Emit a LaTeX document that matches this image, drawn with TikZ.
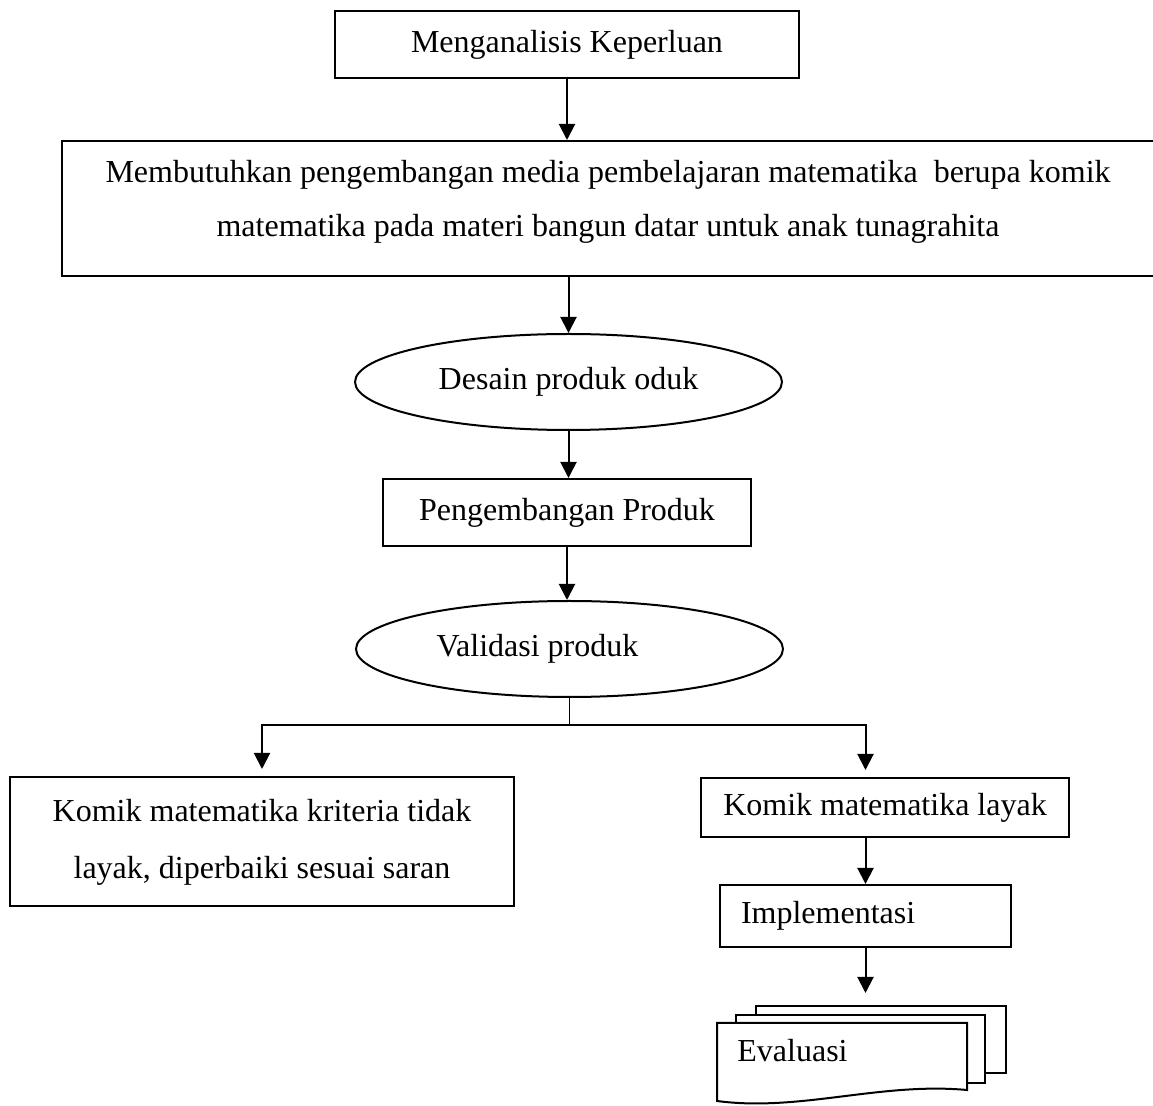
\documentclass[tikz,border=0pt]{standalone}
\usepackage{fontspec}
\setmainfont{Liberation Serif}
\usetikzlibrary{arrows.meta,positioning,shapes.geometric}
\tikzstyle{ndbox} = [draw, line width=1pt, shape=rectangle, inner sep=0pt, text=black]
\tikzstyle{ndell} = [draw, line width=1pt, shape=ellipse, inner sep=0pt, text=black]
\tikzstyle{ndpage} = [draw, line width=1pt, fill=white]
\tikzstyle{arflow} = [style={->,>={Triangle[length=8pt,width=8pt]},line width=1pt}]
\tikzstyle{lnflow} = [style={line width=0.6pt}]

\begin{document}
\begin{tikzpicture}[x=0.5pt, y=-0.5pt, font=\fontsize{16pt}{27pt}\selectfont]
	\useasboundingbox[fill=white] (0,0) rectangle (1153,1106);
	\node[ndbox, minimum width=232pt, minimum height=33.5pt] (n1) at (567,44.5) {Menganalisis Keperluan};
	\node[ndbox, minimum width=546pt, minimum height=67.5pt, align=center] (n2) at (608,208.5) {Membutuhkan pengembangan media pembelajaran matematika\ \ berupa komik\\ matematika pada materi bangun datar untuk anak tunagrahita\\[-25pt]\strut};
	\node[ndell, minimum width=213.5pt, minimum height=48pt] (n3) at (568.5,382) {Desain produk oduk};
	\node[ndbox, minimum width=184pt, minimum height=33.5pt] (n4) at (567,512.5) {Pengembangan Produk};
	\node[ndell, minimum width=213.5pt, minimum height=48pt] (n5) at (569.5,649) {Validasi produk\hspace*{32pt}};
	\node[ndbox, minimum width=252pt, minimum height=64.5pt, align=center, font=\fontsize{16pt}{28.5pt}\selectfont] (n6) at (262,841.5) {Komik matematika kriteria tidak\\ layak, diperbaiki sesuai saran\\[-34.5pt]\strut};
	\node[ndbox, minimum width=184pt, minimum height=29.5pt] (n7) at (885,807.5) {Komik matematika layak};
	\node[ndbox, minimum width=145.5pt, minimum height=31pt, text width=124.5pt, align=left, inner xsep=10.5pt] (n8) at (865.5,916) {Implementasi};
	\coordinate (evtop) at (865.5,993);
	% tumpukan dokumen evaluasi
	\draw[ndpage] (756,1006) rectangle (1006,1073);
	\draw[ndpage] (736,1015) rectangle (985,1083);
	\draw[ndpage] (717,1101) -- (717,1023) -- (967,1023) -- (967,1090) .. controls (880,1082) and (800,1112) .. cycle;
	\node[anchor=base west, inner sep=0pt] (n9) at (737,1062) {Evaluasi};
	\draw[arflow] (n1.south) -- (n1.south |- n2.north);
	\draw[arflow] (n3 |- n2.south) -- (n3.north);
	\draw[arflow] (n3.south) -- (n3.south |- n4.north);
	\draw[arflow] (n4.south) -- (n4.south |- n5.north);
	\draw[lnflow] (n5.south) -- ++(0,27) coordinate (split);
	\draw[arflow, shorten >=3.5pt] (split) -| (n6.north);
	\draw[arflow, shorten >=3.5pt] (split) -| (n8 |- n7.north);
	\draw[arflow] (n8 |- n7.south) -- (n8.north);
	\draw[arflow] (n8.south) -- (evtop);
\end{tikzpicture}
\end{document}
